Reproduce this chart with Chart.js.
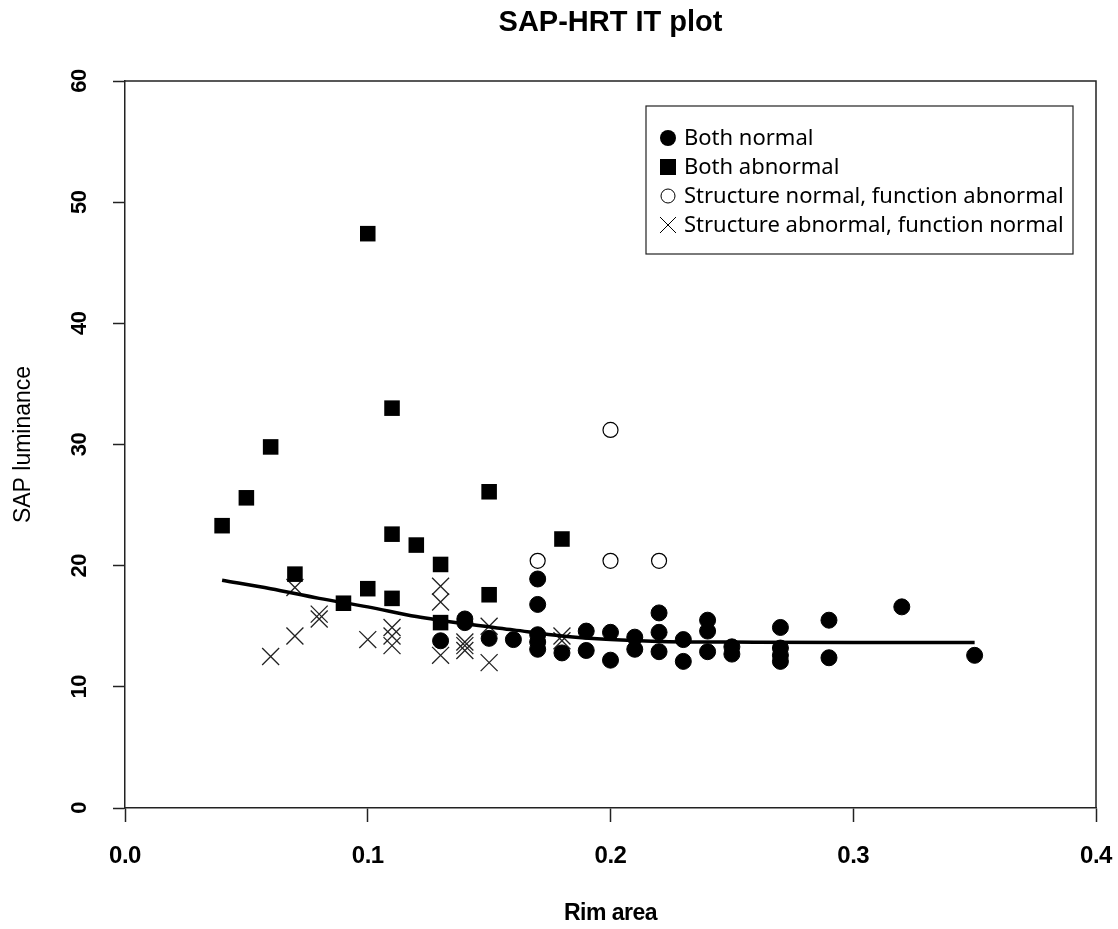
<!DOCTYPE html>
<html>
<head>
<meta charset="utf-8">
<script src="https://cdn.jsdelivr.net/npm/chart.js@4/dist/chart.umd.min.js"></script>
<style>
  html, body { margin: 0; padding: 0; background: #fff; }
  #wrap { width: 1118px; height: 929px; }
</style>
</head>
<body>
<div id="wrap"><canvas id="plot"></canvas></div>
<script>
// rim area (x) and SAP luminance (y) per group
const normalRim = [0.13,0.14,0.14,0.15,0.16,0.17,0.17,0.17,0.17,0.17,0.18,0.19,0.19,0.20,0.20,0.21,0.21,0.22,0.22,0.22,0.23,0.23,0.24,0.24,0.24,0.25,0.25,0.27,0.27,0.27,0.27,0.29,0.29,0.32,0.35];
const normalLum = [13.8,15.6,15.3,14.0,13.9,18.9,16.8,14.3,13.7,13.1,12.8,14.6,13.0,14.5,12.2,14.1,13.1,16.1,14.5,12.9,13.9,12.1,15.5,14.6,12.9,13.3,12.7,14.9,13.2,12.6,12.1,15.5,12.4,16.6,12.6];

const abnormalRim = [0.04,0.05,0.06,0.07,0.09,0.10,0.10,0.11,0.11,0.11,0.12,0.13,0.13,0.15,0.15,0.18];
const abnormalLum = [23.3,25.6,29.8,19.3,16.9,47.4,18.1,33.0,22.6,17.3,21.7,20.1,15.3,26.1,17.6,22.2];

const structNormalRim = [0.17,0.20,0.20,0.22];
const structNormalLum = [20.4,31.2,20.4,20.4];

const structAbnormalRim = [0.06,0.07,0.07,0.08,0.08,0.10,0.11,0.11,0.11,0.13,0.13,0.13,0.14,0.14,0.14,0.15,0.15,0.18,0.18];
const structAbnormalLum = [12.5,14.2,18.2,15.6,16.0,13.9,14.9,14.2,13.4,18.3,17.0,12.6,13.0,13.4,13.7,15.0,12.0,14.2,13.8];

// fitted curve
const fitRim = [0.04,0.06,0.08,0.10,0.12,0.14,0.16,0.18,0.20,0.22,0.25,0.30,0.35];
const fitLum = [18.8,18.1,17.3,16.6,15.8,15.2,14.7,14.2,13.9,13.75,13.7,13.65,13.65];

const xTicks = [0.0, 0.1, 0.2, 0.3, 0.4];
const yTicks = [0, 10, 20, 30, 40, 50, 60];

const legendLabels = ['Both normal', 'Both abnormal', 'Structure normal, function abnormal', 'Structure abnormal, function normal'];

const pts = (xs, ys) => xs.map((x, i) => ({x: x, y: ys[i]}));

const decor = {
  id: 'decor',
  afterDraw(chart) {
    const ctx = chart.ctx, a = chart.chartArea;
    const xs = chart.scales.x, ys = chart.scales.y;
    ctx.save();
    // top and right side of the frame
    ctx.strokeStyle = '#222'; ctx.lineWidth = 1.5;
    ctx.beginPath();
    ctx.moveTo(a.left, a.top); ctx.lineTo(a.right, a.top); ctx.lineTo(a.right, a.bottom);
    ctx.stroke();

    ctx.fillStyle = '#000';
    // x tick labels
    ctx.font = 'bold 24px "Liberation Sans"';
    ctx.letterSpacing = '-0.5px';
    ctx.textAlign = 'center'; ctx.textBaseline = 'middle';
    xTicks.forEach(v => ctx.fillText(v.toFixed(1), xs.getPixelForValue(v), a.bottom + 48));
    // y tick labels, rotated
    ctx.font = 'bold 22px "Liberation Sans"';
    yTicks.forEach(v => {
      ctx.save();
      ctx.translate(a.left - 45, ys.getPixelForValue(v));
      ctx.rotate(-Math.PI / 2);
      ctx.fillText(String(v), 0, 0);
      ctx.restore();
    });
    // titles
    ctx.textBaseline = 'alphabetic';
    ctx.letterSpacing = '0px';
    ctx.font = 'bold 29px "Liberation Sans"';
    ctx.fillText('SAP-HRT IT plot', (a.left + a.right) / 2, 31);
    ctx.font = 'bold 23px "Liberation Sans"';
    ctx.letterSpacing = '-0.5px';
    ctx.fillText('Rim area', (a.left + a.right) / 2, 920);
    ctx.save();
    ctx.translate(24, (a.top + a.bottom) / 2);
    ctx.rotate(-Math.PI / 2);
    ctx.font = '23px "Liberation Sans"';
    ctx.letterSpacing = '0px';
    ctx.textBaseline = 'middle';
    ctx.fillText('SAP luminance', 0, 0);
    ctx.restore();

    // legend box
    ctx.letterSpacing = '0px';
    ctx.strokeStyle = '#222'; ctx.lineWidth = 1.2;
    ctx.strokeRect(646, 106, 427, 148);
    ctx.font = '22px "Noto Sans"';
    ctx.textAlign = 'left'; ctx.textBaseline = 'middle';
    legendLabels.forEach((lab, i) => {
      const cy = 138 + i * 29, cx = 668;
      ctx.fillStyle = '#000'; ctx.strokeStyle = '#000';
      if (i === 0) { ctx.beginPath(); ctx.arc(cx, cy, 8, 0, Math.PI * 2); ctx.fill(); }
      if (i === 1) { ctx.fillRect(cx - 8, cy - 8, 16, 16); }
      if (i === 2) { ctx.lineWidth = 1; ctx.beginPath(); ctx.arc(cx, cy, 7, 0, Math.PI * 2); ctx.stroke(); }
      if (i === 3) { ctx.lineWidth = 1; ctx.beginPath(); ctx.moveTo(cx - 8, cy - 8); ctx.lineTo(cx + 8, cy + 8); ctx.moveTo(cx + 8, cy - 8); ctx.lineTo(cx - 8, cy + 8); ctx.stroke(); }
      ctx.fillText(lab, 684, cy + 1);
    });
    ctx.restore();
  }
};

new Chart(document.getElementById('plot'), {
  type: 'scatter',
  data: {
    datasets: [
      {label: 'fit', type: 'line', data: pts(fitRim, fitLum), borderColor: '#000', borderWidth: 3.5,
       pointRadius: 0, fill: false, cubicInterpolationMode: 'monotone'},
      {label: legendLabels[0], data: pts(normalRim, normalLum), pointStyle: 'circle', pointRadius: 8,
       backgroundColor: '#000', borderColor: '#000', borderWidth: 1},
      {label: legendLabels[1], data: pts(abnormalRim, abnormalLum), pointStyle: 'rect', pointRadius: 11,
       backgroundColor: '#000', borderColor: '#000', borderWidth: 0},
      {label: legendLabels[2], data: pts(structNormalRim, structNormalLum), pointStyle: 'circle', pointRadius: 7.5,
       backgroundColor: '#fff', borderColor: '#000', borderWidth: 1.2},
      {label: legendLabels[3], data: pts(structAbnormalRim, structAbnormalLum), pointStyle: 'crossRot', pointRadius: 12,
       backgroundColor: '#222', borderColor: '#222', borderWidth: 1.3}
    ]
  },
  options: {
    responsive: true, maintainAspectRatio: false, animation: false,
    events: [],
    layout: {padding: {left: 0, top: 81, right: 22, bottom: 0}},
    plugins: {legend: {display: false}, tooltip: {enabled: false}, title: {display: false}},
    scales: {
      x: {
        type: 'linear', min: 0, max: 0.4,
        afterFit: s => { s.height = 121; },
        afterBuildTicks: s => { s.ticks = xTicks.map(v => ({value: v})); },
        ticks: {display: false},
        grid: {drawOnChartArea: false, drawTicks: true, tickLength: 14, tickWidth: 1.5, tickColor: '#222'},
        border: {display: true, color: '#222', width: 1.5}
      },
      y: {
        min: 0, max: 60,
        afterFit: s => { s.width = 125; },
        afterBuildTicks: s => { s.ticks = yTicks.map(v => ({value: v})); },
        ticks: {display: false},
        grid: {drawOnChartArea: false, drawTicks: true, tickLength: 12, tickWidth: 1.5, tickColor: '#222'},
        border: {display: true, color: '#222', width: 1.5}
      }
    }
  },
  plugins: [decor]
});
</script>
</body>
</html>
